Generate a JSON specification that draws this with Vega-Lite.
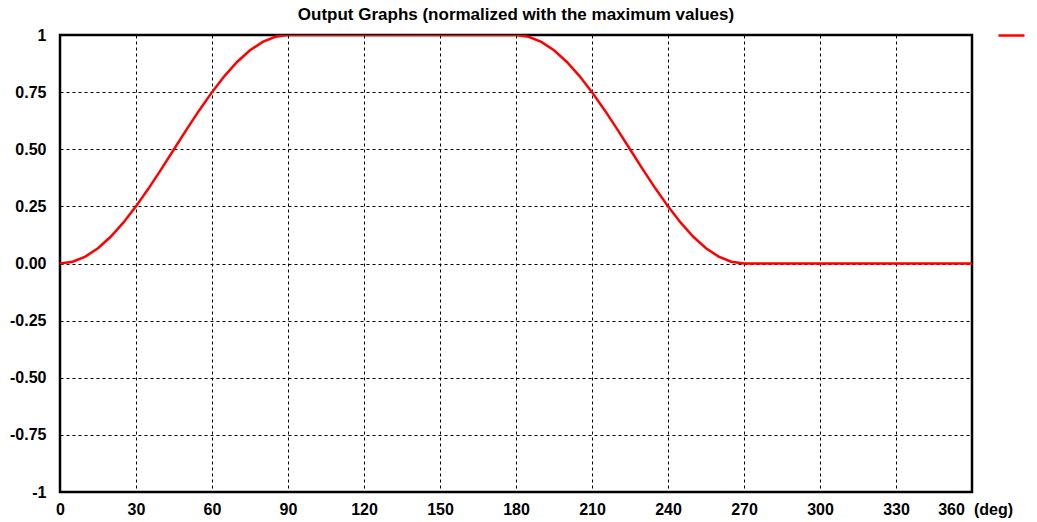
{
  "$schema": "https://vega.github.io/schema/vega-lite/v6.json",
  "autosize": {"type": "none"},
  "width": 912,
  "height": 457,
  "padding": {"left": 60, "top": 35, "right": 65, "bottom": 30},
  "background": "white",
  "title": {
    "text": "Output Graphs (normalized with the maximum values)",
    "anchor": "middle",
    "font": "Liberation Sans",
    "fontSize": 17,
    "fontWeight": "bold",
    "color": "black",
    "offset": -3
  },
  "config": {
    "view": {"stroke": "black", "strokeWidth": 2.5},
    "axis": {
      "labelFont": "Liberation Sans",
      "labelFontSize": 16,
      "labelFontWeight": "bold",
      "labelColor": "black",
      "domain": false,
      "ticks": false,
      "tickSize": 0,
      "grid": true,
      "gridColor": "black",
      "gridOpacity": 1,
      "gridWidth": 1,
      "gridDash": [3, 3]
    }
  },
  "data": {
    "values": [
      {"deg": 0, "value": 0},
      {"deg": 5, "value": 0.0076},
      {"deg": 10, "value": 0.0302},
      {"deg": 15, "value": 0.067},
      {"deg": 20, "value": 0.117},
      {"deg": 25, "value": 0.1786},
      {"deg": 30, "value": 0.25},
      {"deg": 35, "value": 0.329},
      {"deg": 40, "value": 0.4132},
      {"deg": 45, "value": 0.5},
      {"deg": 50, "value": 0.5868},
      {"deg": 55, "value": 0.671},
      {"deg": 60, "value": 0.75},
      {"deg": 65, "value": 0.8214},
      {"deg": 70, "value": 0.883},
      {"deg": 75, "value": 0.933},
      {"deg": 80, "value": 0.9698},
      {"deg": 85, "value": 0.9924},
      {"deg": 90, "value": 1},
      {"deg": 180, "value": 1},
      {"deg": 185, "value": 0.9924},
      {"deg": 190, "value": 0.9698},
      {"deg": 195, "value": 0.933},
      {"deg": 200, "value": 0.883},
      {"deg": 205, "value": 0.8214},
      {"deg": 210, "value": 0.75},
      {"deg": 215, "value": 0.671},
      {"deg": 220, "value": 0.5868},
      {"deg": 225, "value": 0.5},
      {"deg": 230, "value": 0.4132},
      {"deg": 235, "value": 0.329},
      {"deg": 240, "value": 0.25},
      {"deg": 245, "value": 0.1786},
      {"deg": 250, "value": 0.117},
      {"deg": 255, "value": 0.067},
      {"deg": 260, "value": 0.0302},
      {"deg": 265, "value": 0.0076},
      {"deg": 270, "value": 0},
      {"deg": 360, "value": 0}
    ]
  },
  "mark": {"type": "line", "strokeWidth": 2.5, "clip": true},
  "encoding": {
    "x": {
      "field": "deg",
      "type": "quantitative",
      "scale": {"domain": [0, 360], "nice": false, "zero": false},
      "axis": {
        "values": [0, 30, 60, 90, 120, 150, 180, 210, 240, 270, 300, 330, 360],
        "labelOffset": {"condition": {"test": "datum.value == 360", "value": -21}, "value": 0},
        "labelPadding": 9,
        "labelFlush": false,
        "title": "(deg)",
        "titleFont": "Liberation Sans",
        "titleFontSize": 16,
        "titleFontWeight": "bold",
        "titleColor": "black",
        "titleX": 933,
        "titleY": 9,
        "titleAlign": "center",
        "titleBaseline": "top",
        "titleAngle": 0
      }
    },
    "y": {
      "field": "value",
      "type": "quantitative",
      "scale": {"domain": [-1, 1], "nice": false, "zero": false},
      "axis": {
        "values": [-1, -0.75, -0.5, -0.25, 0, 0.25, 0.5, 0.75, 1],
        "labelExpr": "datum.value == 1 ? '1' : datum.value == -1 ? '-1' : (datum.value < 0 ? '-' : '') + format(abs(datum.value), '.2f')",
        "labelPadding": 14,
        "labelFlush": false,
        "title": null
      }
    },
    "color": {
      "datum": "series",
      "scale": {"range": ["#ff0000"]},
      "legend": {
        "orient": "none",
        "legendX": 937,
        "legendY": -14,
        "title": null,
        "symbolType": "stroke",
        "symbolSize": 676,
        "symbolStrokeWidth": 2.5,
        "labelExpr": "''",
        "labelFontSize": 1
      }
    }
  }
}
